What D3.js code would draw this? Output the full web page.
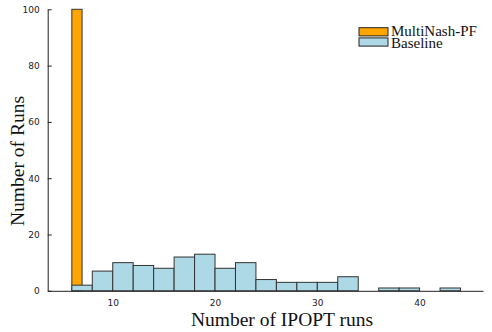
<!DOCTYPE html>
<html><head><meta charset="utf-8">
<script src="https://cdn.jsdelivr.net/npm/d3@7"></script>
<style>body{margin:0;background:#fff}</style>
</head><body>
<svg id="c" width="492" height="332"></svg>
<script>
// Data
const multiBins = [6];          // bin start (width 1)
const multiCounts = [100];
const baseBins = [6,8,10,12,14,16,18,20,22,24,26,28,30,32,34,36,38,40,42];  // bin start (width 2)
const baseCounts = [2,7,10,9,8,12,13,8,10,4,3,3,3,5,0,1,1,0,1];
const xTicks = [10,20,30,40];
const yTicks = [0,20,40,60,80,100];
const seriesNames = ["MultiNash-PF","Baseline"];
const colors = ["#FFA500","#ADD8E6"];

(function(){
const svg = d3.select("#c");
const mL = 47.7, mR = 483, mT = 9.3, mB = 290.8;
const x = d3.scaleLinear().domain([3.64, 46.2]).range([mL, mR]);
const y = d3.scaleLinear().domain([0, 100]).range([mB, mT]);

// orange bars
svg.append("g").selectAll("rect").data(multiBins).join("rect")
  .attr("x", (d)=>x(d)).attr("width", (d)=>x(d+1)-x(d))
  .attr("y", (d,i)=>y(multiCounts[i])).attr("height", (d,i)=>y(0)-y(multiCounts[i]))
  .attr("fill", colors[0]).attr("stroke", "#333").attr("stroke-width", 1);

// baseline bars
const bData = baseBins.map((b,i)=>({b, c: baseCounts[i]})).filter(d=>d.c>0);
svg.append("g").selectAll("rect").data(bData).join("rect")
  .attr("x", (d)=>x(d.b)).attr("width", (d)=>x(d.b+2)-x(d.b))
  .attr("y", (d)=>y(d.c))
  .attr("height", (d)=>y(0)-y(d.c))
  .attr("fill", colors[1]).attr("stroke", "#333").attr("stroke-width", 1);

// axes
const xa = svg.append("g").attr("transform", `translate(0,${mB})`)
  .call(d3.axisBottom(x).tickValues(xTicks).tickSizeInner(0).tickSizeOuter(0).tickPadding(9));
const ya = svg.append("g").attr("transform", `translate(${mL},0)`)
  .call(d3.axisLeft(y).tickValues(yTicks).tickSizeInner(-4).tickSizeOuter(0).tickPadding(8));
[xa, ya].forEach(a=>{
  a.select(".domain").attr("stroke","#222").attr("stroke-width",1);
  a.selectAll(".tick line").attr("stroke","#222");
  a.selectAll("text").attr("font-family","DejaVu Sans").attr("font-size",9).attr("fill","#222");
});

// axis titles
svg.append("text").attr("x", 282).attr("y", 326).attr("text-anchor","middle")
  .attr("font-family","Liberation Serif").attr("font-size",19.5).attr("fill","#111")
  .text("Number of IPOPT runs");
svg.append("text").attr("transform","translate(24,161) rotate(-90)").attr("text-anchor","middle")
  .attr("font-family","Liberation Serif").attr("font-size",19.5).attr("fill","#111")
  .text("Number of Runs");

// legend
const lg = svg.append("g");
seriesNames.forEach((n,i)=>{
  lg.append("rect").attr("x",359).attr("y",27.7+i*10.2).attr("width",29).attr("height",8.2)
    .attr("fill",colors[i]).attr("stroke","#222").attr("stroke-width",1);
  lg.append("text").attr("x",391).attr("y",36+i*11.5)
    .attr("font-family","Liberation Serif").attr("font-size",15).attr("fill","#111").text(n);
});
})();
</script>
</body></html>
